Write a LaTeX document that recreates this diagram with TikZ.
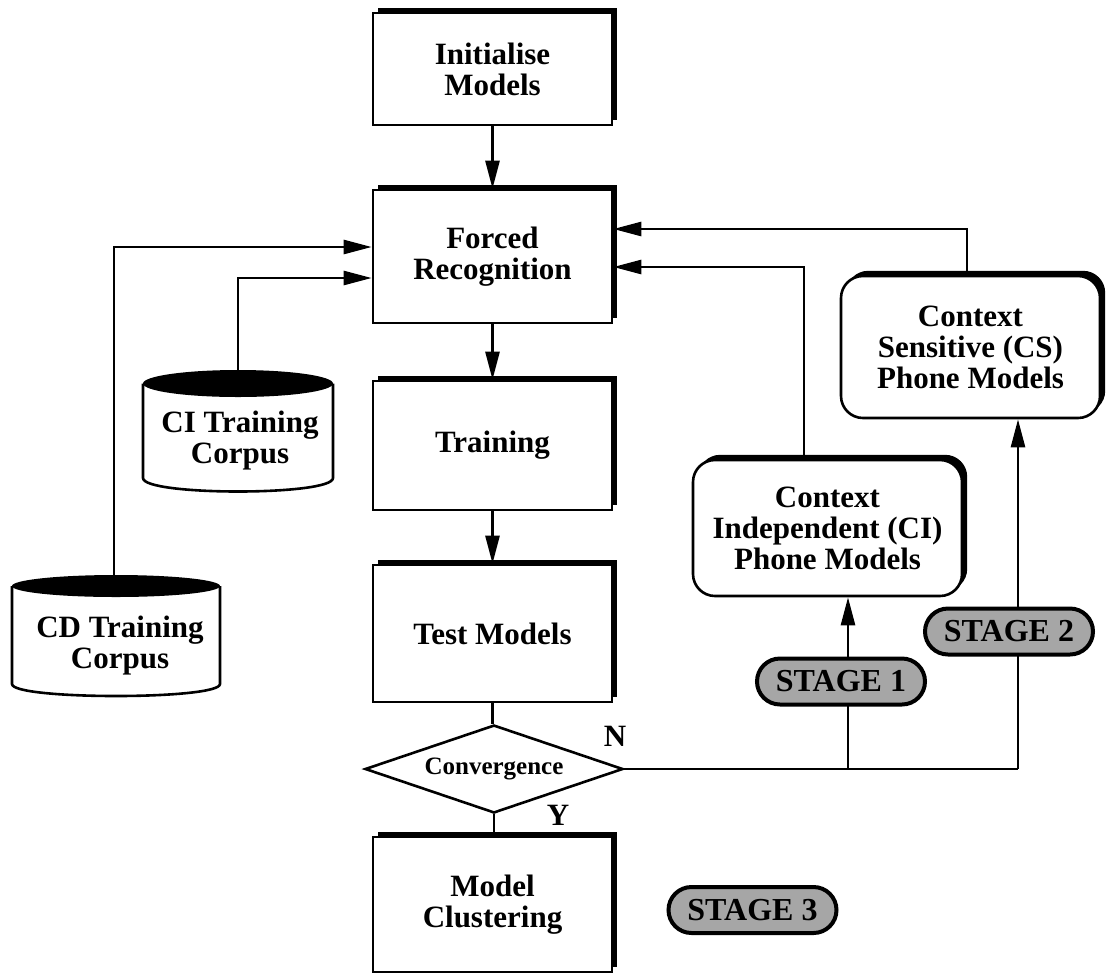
\documentclass[tikz,border=0pt]{standalone}
\usepackage{fontspec}
\setmainfont{Liberation Serif}
\usetikzlibrary{arrows.meta,shapes.geometric,shadows}

\begin{document}
\begin{tikzpicture}[x=0.5pt,y=-0.5pt,line width=1.3pt,
  txt/.style={font=\fontsize{15.5}{15.5}\selectfont\bfseries,align=center},
  box/.style={txt,draw,fill=white,minimum width=119.5pt,inner sep=0pt,
    drop shadow={shadow xshift=2.6pt,shadow yshift=2.6pt,fill=black,opacity=1}},
  rbox/.style={box,rounded corners=11pt},
  stage/.style={draw,line width=2pt,fill=black!35,rounded corners=11.5pt,minimum width=84pt,
    minimum height=23pt,inner sep=0pt,font=\fontsize{16}{16}\selectfont\bfseries},
  arr/.style={-{Triangle[length=14pt,width=7pt]}}]
  \useasboundingbox (0,0) rectangle (1109,976);

  % main column
  \node[box,minimum height=56pt] (init) at (492.5,69) {Initialise\\Models};
  \node[box,minimum height=66.5pt] (forced) at (492.5,256.5) {Forced\\Recognition};
  \node[box,minimum height=64.5pt] (train) at (492.5,445.5) {Training};
  \node[box,minimum height=68.5pt] (test) at (492.5,633.5) {Test Models};
  \node[draw,diamond,aspect=2.9,inner sep=0pt,minimum width=129pt,minimum height=44pt,
    font=\fontsize{12.5}{12.5}\selectfont\bfseries] (conv) at (494,769) {Convergence};
  \node[box,minimum height=67.5pt] (clust) at (492.5,904.5) {Model\\Clustering};

  % phone models
  \node[rbox,minimum width=134.5pt,minimum height=68pt] (ci) at (827.5,528)
    {Context\\Independent (CI)\\Phone Models};
  \node[rbox,minimum width=129.5pt,minimum height=71pt] (cs) at (970.5,347)
    {Context\\Sensitive (CS)\\Phone Models};

  % corpora
  \fill (238,383.5) ellipse [x radius=95,y radius=13.5];
  \draw (143,383.5) -- (143,478) .. controls (143,496) and (333,496) .. (333,478) -- (333,383.5);
  \node[txt] (cicorp) at (240,441) {CI Training\\Corpus};
  \coordinate (citop) at (238,370);
  \fill (116,586) ellipse [x radius=104,y radius=11];
  \draw (12,586) -- (12,684) .. controls (12,700) and (220,700) .. (220,684) -- (220,586);
  \node[txt] (cdcorp) at (120,646) {CD Training\\Corpus};
  \coordinate (cdtop) at (114,575);

  \draw[arr] (init) -- (forced);
  \draw[arr] (forced) -- (train);
  \draw[arr] (train) -- (test);
  \draw (test) -- (test |- conv.north);
  \draw (conv) -- (conv |- clust.north);
  \node[txt] (ylab) at (558,815) {Y};
  \node[txt] (nlab) at (615,736) {N};

  % N branch
  \coordinate (s1foot) at (848,769);
  \coordinate (s2foot) at (1018,769);
  \draw (conv.east) -- (s2foot);
  \draw[arr] (s1foot) -- (s1foot |- ci.south);
  \draw[arr] (s2foot) -- (s2foot |- cs.south);

  % feedback into forced recognition
  \coordinate (cifb) at (804,267);
  \coordinate (csfb) at (967,229);
  \coordinate (cicfb) at (238,278);
  \coordinate (cdfb) at (114,247);
  \draw[arr] (cifb |- ci.north) |- (forced.east |- cifb);
  \draw[arr] (csfb |- cs.north) |- (forced.east |- csfb);
  \draw[arr] (citop) |- (forced.west |- cicfb);
  \draw[arr] (cdtop) |- (forced.west |- cdfb);

  % stages
  \node[stage] (st1) at (841,681.5) {STAGE 1};
  \node[stage] (st2) at (1009,631.5) {STAGE 2};
  \node[stage] (st3) at (752.5,910) {STAGE 3};
\end{tikzpicture}
\end{document}
